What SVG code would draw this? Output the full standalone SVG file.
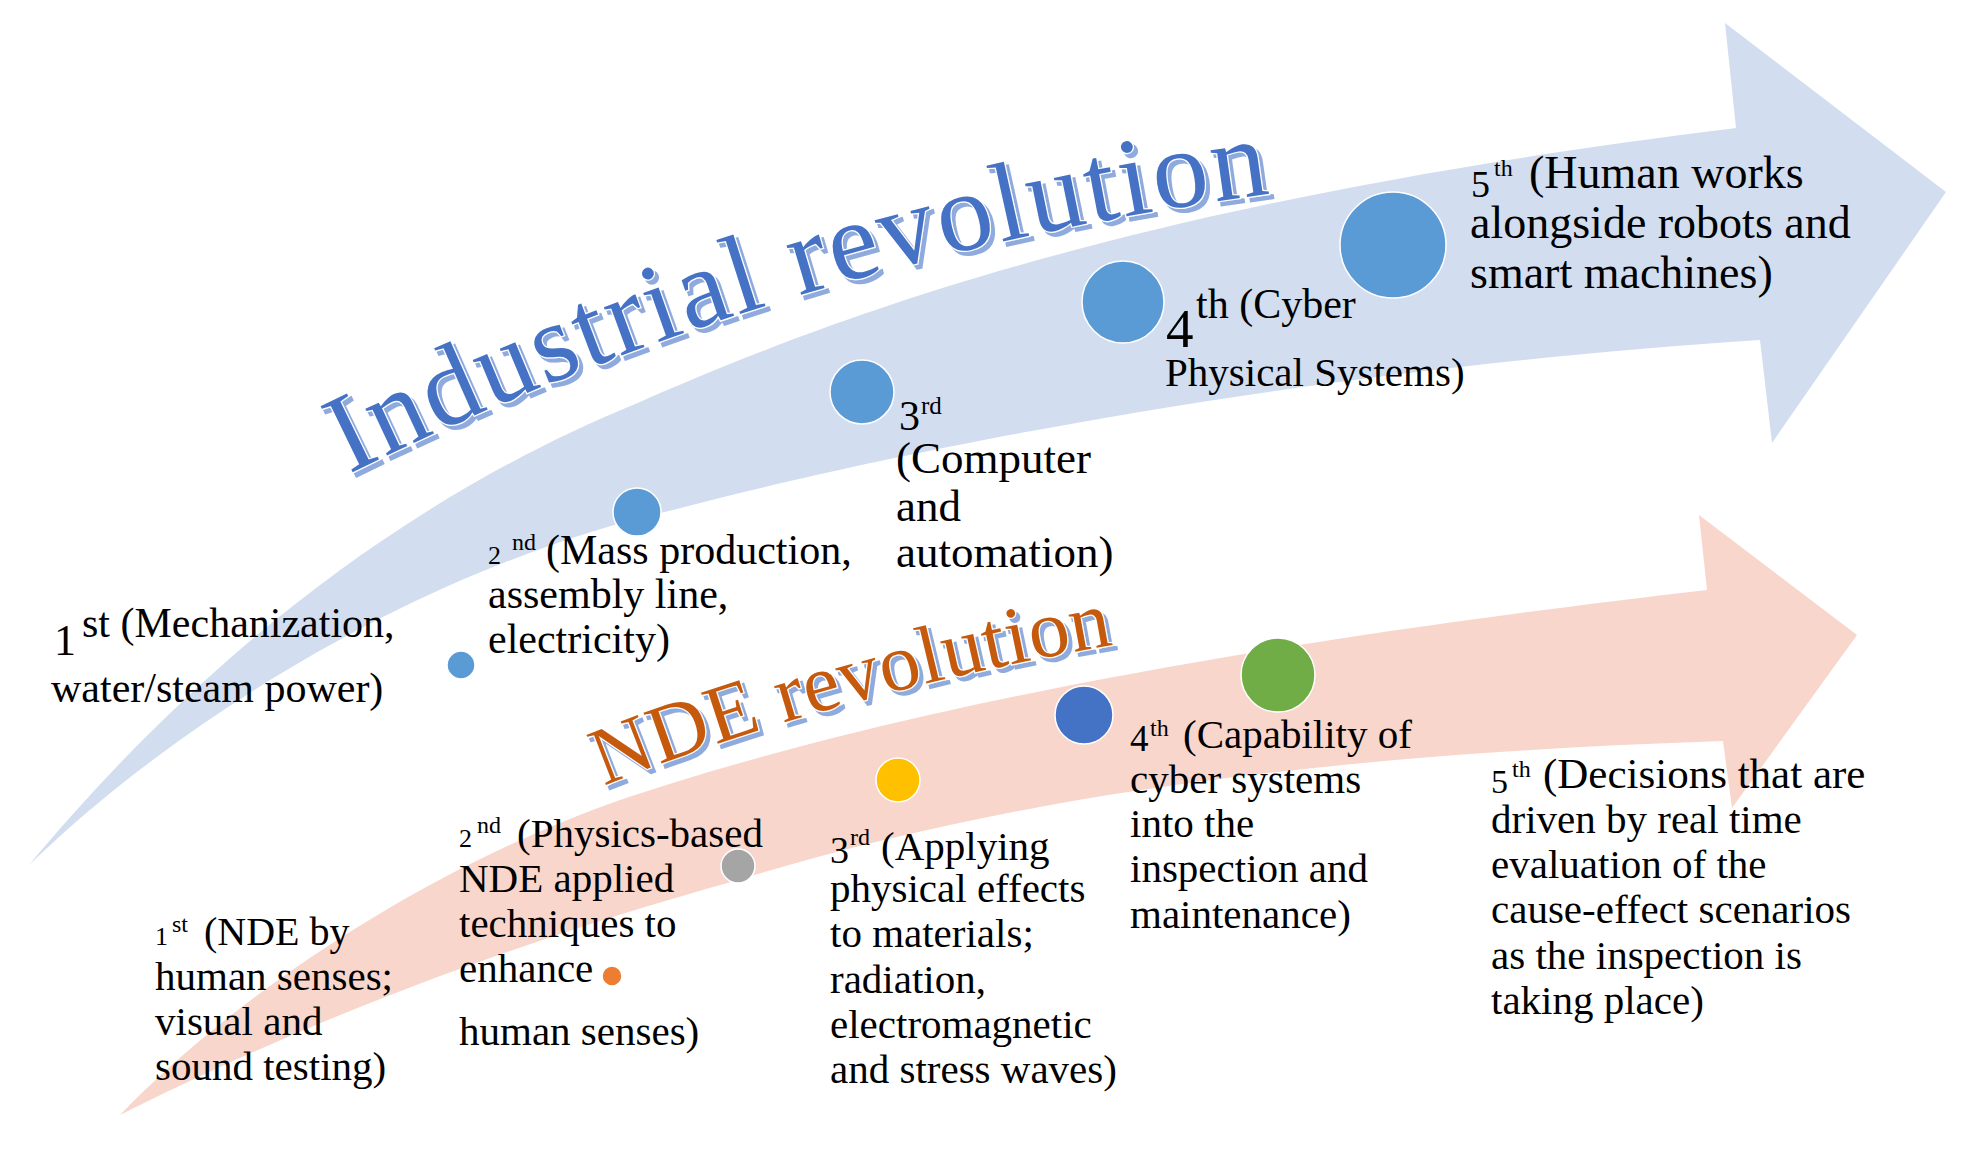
<svg xmlns="http://www.w3.org/2000/svg" width="1964" height="1151" viewBox="0 0 1964 1151">
<defs>
<style>
.t{font-family:"Liberation Serif","Times New Roman",serif;fill:#000;}
.ind{fill:#5B9BD5;stroke:#fff;stroke-width:1.5;}
.nde{stroke:#fff;stroke-width:1.5;}
.ttl{font-family:"Liberation Serif","Times New Roman",serif;stroke:#fff;stroke-width:2.5;paint-order:stroke;filter:url(#wshadow);}
</style>
<filter id="wshadow" filterUnits="userSpaceOnUse" x="0" y="0" width="1964" height="1151">
<feOffset in="SourceAlpha" dx="3.5" dy="3.5" result="off"/>
<feFlood flood-color="#8FAADC" result="col"/>
<feComposite in="col" in2="off" operator="in" result="sh"/>
<feMerge><feMergeNode in="sh"/><feMergeNode in="SourceGraphic"/></feMerge>
</filter>
<path id="arcInd" d="M 349,474 Q 783,259 1268,194 L 1420,178" fill="none"/>
<path id="arcNde" d="M 604,786 Q 828,695 1112,645 L 1250,622" fill="none"/>
</defs>
<rect width="1964" height="1151" fill="#fff"/>
<g id="arrows">
<path id="industrial-arrow" fill="#D2DEEF" d="M 29,865 C 150,720 350,520 640,402 C 850,310 1150,200 1736,128 L 1725,23 L 1946,192 L 1772,443 L 1760,340 C 1300,370 900,450 673,510 C 450,560 200,700 29,865 Z"/>
<path id="nde-arrow" fill="#F8D6CB" d="M 120,1115 C 230,1000 420,870 620,800 C 800,740 1100,660 1707,590 L 1699,515 L 1857,635 L 1732,808 L 1723,741 C 1300,755 1000,800 738,880 C 450,960 250,1050 120,1115 Z"/>
</g>
<g id="title-industrial">
<text class="ttl" font-size="112" letter-spacing="2.5" fill="#4472C4"><textPath href="#arcInd">Industrial revolution</textPath></text>
</g>
<g id="title-nde">
<text class="ttl" font-size="82" letter-spacing="0.3" fill="#C55A11"><textPath href="#arcNde">NDE revolution</textPath></text>
</g>
<g id="ind-1">
<circle class="ind" cx="461" cy="665" r="14"/>
<text class="t" font-size="42" x="54" y="655"><tspan font-size="44">1</tspan><tspan x="82" y="637">st (Mechanization,</tspan><tspan x="51" y="702">water/steam power)</tspan></text>
</g>
<g id="ind-2">
<circle class="ind" cx="637" cy="512" r="24"/>
<text class="t" font-size="42" x="488" y="564"><tspan font-size="26">2</tspan><tspan font-size="24" x="512" y="550">nd</tspan><tspan x="546" y="564">(Mass production,</tspan><tspan x="488" y="608">assembly line,</tspan><tspan x="488" y="653">electricity)</tspan></text>
</g>
<g id="ind-3">
<circle class="ind" cx="862" cy="392" r="32"/>
<text class="t" font-size="45" x="899" y="430"><tspan font-size="42">3</tspan><tspan font-size="25" x="921" y="414">rd</tspan><tspan x="896" y="473">(Computer</tspan><tspan x="896" y="521">and</tspan><tspan x="896" y="567">automation)</tspan></text>
</g>
<g id="ind-4">
<circle class="ind" cx="1123" cy="302" r="41"/>
<text class="t" font-size="42" x="1166" y="347"><tspan font-size="55">4</tspan><tspan x="1196" y="318">th (Cyber</tspan><tspan font-size="41" x="1165" y="386">Physical Systems)</tspan></text>
</g>
<g id="ind-5">
<circle class="ind" cx="1393" cy="245" r="53"/>
<text class="t" font-size="46" x="1471" y="197"><tspan font-size="38">5</tspan><tspan font-size="24" x="1494" y="176">th</tspan><tspan x="1529" y="188">(Human works</tspan><tspan x="1470" y="238">alongside robots and</tspan><tspan x="1470" y="288">smart machines)</tspan></text>
</g>
<g id="nde-1">
<text class="t" font-size="41" x="155" y="945"><tspan font-size="26">1</tspan><tspan font-size="24" x="172" y="932">st</tspan><tspan font-size="40" x="204" y="945">(NDE by</tspan><tspan x="155" y="990">human senses;</tspan><tspan x="155" y="1035">visual and</tspan><tspan x="155" y="1080">sound testing)</tspan></text>
</g>
<g id="nde-2">
<circle class="nde" cx="612" cy="976" r="10" fill="#ED7D31"/>
<circle class="nde" cx="738" cy="866" r="17" fill="#A5A5A5"/>
<text class="t" font-size="41" x="459" y="847"><tspan font-size="26">2</tspan><tspan font-size="24" x="477" y="833">nd</tspan><tspan x="517" y="847">(Physics-based</tspan><tspan x="459" y="892">NDE applied</tspan><tspan x="459" y="937">techniques to</tspan><tspan x="459" y="982">enhance</tspan><tspan x="459" y="1045">human senses)</tspan></text>
</g>
<g id="nde-3">
<circle class="nde" cx="898" cy="780" r="22" fill="#FFC000"/>
<text class="t" font-size="41" x="830" y="863"><tspan font-size="38">3</tspan><tspan font-size="24" x="850" y="845">rd</tspan><tspan x="881" y="860">(Applying</tspan><tspan x="830" y="902">physical effects</tspan><tspan x="830" y="947">to materials;</tspan><tspan x="830" y="993">radiation,</tspan><tspan x="830" y="1038">electromagnetic</tspan><tspan x="830" y="1083">and stress waves)</tspan></text>
</g>
<g id="nde-4">
<circle class="nde" cx="1084" cy="715" r="29" fill="#4472C4"/>
<text class="t" font-size="41" x="1130" y="751"><tspan font-size="37">4</tspan><tspan font-size="24" x="1150" y="736">th</tspan><tspan x="1183" y="748">(Capability of</tspan><tspan x="1130" y="793">cyber systems</tspan><tspan x="1130" y="837">into the</tspan><tspan x="1130" y="882">inspection and</tspan><tspan x="1130" y="928">maintenance)</tspan></text>
</g>
<g id="nde-5">
<circle class="nde" cx="1278" cy="675" r="37" fill="#70AD47"/>
<text class="t" font-size="41" x="1491" y="793"><tspan font-size="34">5</tspan><tspan font-size="24" x="1512" y="777">th</tspan><tspan font-size="43" x="1543" y="788">(Decisions that are</tspan><tspan x="1491" y="833">driven by real time</tspan><tspan x="1491" y="878">evaluation of the</tspan><tspan x="1491" y="923">cause-effect scenarios</tspan><tspan x="1491" y="969">as the inspection is</tspan><tspan x="1491" y="1014">taking place)</tspan></text>
</g>
</svg>
